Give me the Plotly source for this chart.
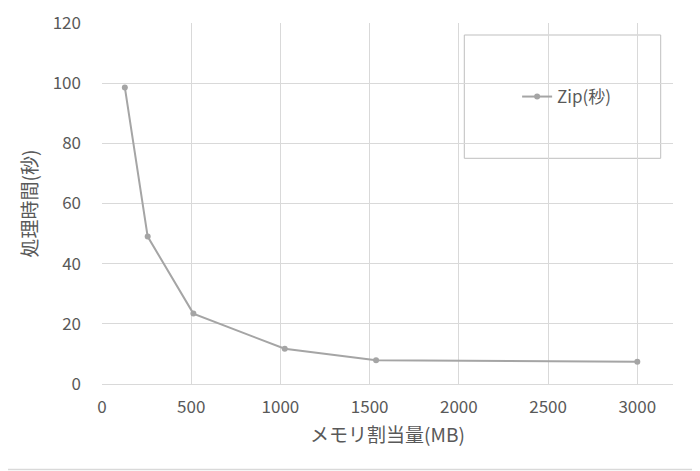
import plotly.graph_objects as go

memory_mb = [128, 256, 512, 1024, 1536, 3000]
zip_seconds = [98.6, 49.0, 23.4, 11.7, 7.9, 7.4]
series_name = "Zip(秒)"
x_title = "メモリ割当量(MB)"
y_title = "処理時間(秒)"
x_ticks = [0, 500, 1000, 1500, 2000, 2500, 3000]
y_ticks = [0, 20, 40, 60, 80, 100, 120]

OFF = 8  # page body margin
W, H = 700 - OFF, 471 - OFF
ml, mt = 102 - OFF, 23 - OFF
mr = W - (673 - OFF)
mb = H - (384 - OFF)
pw, ph = W - ml - mr, H - mt - mb


def px(xp):
    return (xp - OFF - ml) / pw


def py(yp):
    return (H - mb - (yp - OFF)) / ph


fig = go.Figure()
fig.add_trace(go.Scatter(
    x=memory_mb, y=zip_seconds, name=series_name, mode="lines+markers",
    line=dict(color="#a5a5a5", width=2),
    marker=dict(color="#a5a5a5", size=6),
    showlegend=True,
))

font_fam = "Noto Sans CJK JP, Noto Sans, sans-serif"
fig.update_layout(
    width=W, height=H,
    margin=dict(l=ml, r=mr, t=mt, b=mb, autoexpand=False),
    paper_bgcolor="white", plot_bgcolor="white",
    font=dict(family=font_fam, color="#595959", size=17),
    xaxis=dict(range=[0, 3200], tickvals=x_ticks, showgrid=True, gridcolor="#d9d9d9",
               gridwidth=1, zeroline=False, showline=True, linecolor="#d9d9d9",
               ticks="", ticklabelstandoff=8, tickfont=dict(size=17, color="#595959"),
               title=dict(text=x_title, font=dict(size=19, color="#595959"), standoff=11)),
    yaxis=dict(range=[0, 120], tickvals=y_ticks, showgrid=True, gridcolor="#d9d9d9",
               gridwidth=1, zeroline=False, showline=False,
               ticks="", ticklabelstandoff=20, tickfont=dict(size=17, color="#595959"),
               title=dict(text=y_title, font=dict(size=19, color="#595959"), standoff=10)),
    legend=dict(x=0.727, y=0.795, xanchor="left", yanchor="middle",
                bgcolor="rgba(0,0,0,0)", borderwidth=0,
                font=dict(size=17, color="#595959"), itemwidth=30),
    shapes=[
        dict(type="rect", xref="paper", yref="paper",
             x0=px(464.3), x1=px(660.7), y0=py(158.3), y1=py(35),
             line=dict(color="#bfbfbf", width=1), fillcolor="white", layer="below"),
        dict(type="line", xref="paper", yref="paper",
             x0=px(697), x1=px(697), y0=py(469.5), y1=py(OFF),
             line=dict(color="#d9d9d9", width=1.5)),
        dict(type="line", xref="paper", yref="paper",
             x0=px(OFF), x1=px(697), y0=py(469.5), y1=py(469.5),
             line=dict(color="#d9d9d9", width=1.5)),
    ],
)
fig.write_html("out.html")
